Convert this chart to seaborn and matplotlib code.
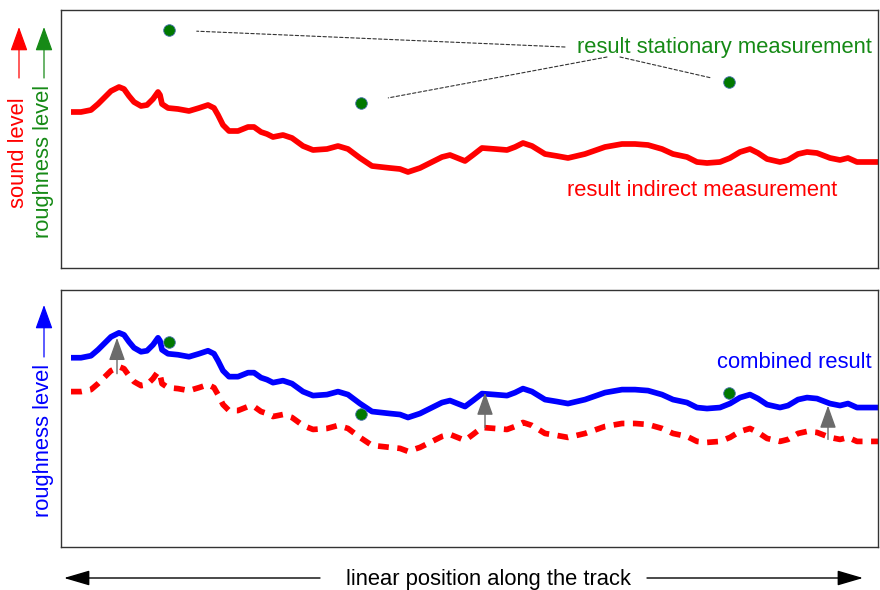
import pandas as pd
import matplotlib.pyplot as plt
import seaborn as sns

# position along the track (arbitrary units) and levels
position = [10, 20, 30, 37, 43, 50, 58, 63, 68, 73,
            80, 86, 92, 97, 99, 101, 107, 117, 128, 138,
            147, 153, 157, 162, 168, 177, 187, 193, 200, 206,
            212, 222, 231, 242, 252, 266, 277, 287, 299, 311,
            329, 339, 347, 359, 369, 381, 389, 399, 404, 412,
            421, 434, 446, 454, 462, 471, 484, 496, 507, 524,
            544, 561, 574, 587, 601, 612, 626, 636, 646, 659,
            669, 679, 689, 697, 706, 719, 727, 737, 746, 756,
            769, 779, 787, 796, 817]
indirect = [156, 156, 158, 164, 170, 177, 181, 179, 172, 166,
            162, 163, 169, 176, 173, 164, 160, 159, 157, 160,
            163, 160, 153, 143, 137, 137, 141, 141, 136, 134,
            131, 133, 130, 122, 118, 119, 122, 119, 110, 102,
            100, 99, 96, 100, 105, 111, 113, 109, 107, 113,
            120, 119, 118, 121, 125, 122, 114, 112, 110, 114,
            121, 124, 124, 123, 119, 114, 111, 106, 105, 106,
            110, 116, 119, 115, 109, 106, 108, 114, 116, 115,
            110, 108, 110, 106, 106]
combined = [190, 190, 192, 198, 204, 211, 215, 213, 206, 200,
            196, 197, 203, 210, 207, 198, 194, 193, 191, 194,
            197, 194, 187, 177, 171, 171, 175, 175, 170, 168,
            165, 167, 164, 156, 152, 153, 156, 153, 144, 136,
            134, 133, 130, 134, 139, 145, 147, 143, 141, 147,
            154, 153, 152, 155, 159, 156, 148, 146, 144, 148,
            155, 158, 158, 157, 153, 148, 145, 140, 139, 140,
            144, 150, 153, 149, 143, 140, 142, 148, 150, 149,
            144, 142, 144, 140, 140]

# stationary measurements
stat_pos = [108, 300, 668]
stat_top = [238, 165, 186]
stat_bottom = [206, 134, 155]

# correction arrows (from indirect to combined)
arrow_pos = [56, 424, 767]
arrow_from = [174, 120, 108]
arrow_to = [210, 155, 142]

sns.set_style('white')
plt.rcParams['font.family'] = ['Liberation Sans', 'DejaVu Sans']

RED, BLUE, GREEN = '#ff0000', '#0000ff', '#168a16'
DOT, DOT_EDGE = '#007800', '#4a72b0'
FS = 15.8
LW = 4.1
W, H = 880, 590

df = pd.DataFrame({'position': position, 'indirect': indirect, 'combined': combined})

fig = plt.figure(figsize=(W / 100, H / 100), dpi=100)
ax1 = fig.add_axes([61 / W, 1 - 268 / H, 817 / W, 258 / H])
ax2 = fig.add_axes([61 / W, 1 - 547 / H, 817 / W, 257 / H])

# top panel
sns.lineplot(data=df, x='position', y='indirect', color=RED, lw=LW, ax=ax1,
             solid_joinstyle='round', solid_capstyle='butt')
sns.scatterplot(x=stat_pos, y=stat_top, ax=ax1, color=DOT, edgecolor=DOT_EDGE,
                linewidth=0.6, s=70, zorder=5)

ax1.text(663, 221, 'result stationary measurement', color=GREEN, fontsize=FS,
         ha='center', va='center')
ax1.text(641, 77, 'result indirect measurement', color=RED, fontsize=FS,
         ha='center', va='center')

leader = dict(arrowstyle='-', color='#333333', lw=0.8, linestyle=(0, (3, 2)), shrinkA=0)
ax1.annotate('', xy=(stat_pos[0], stat_top[0]), xytext=(504, 221),
             arrowprops=dict(leader, shrinkB=20))
ax1.annotate('', xy=(stat_pos[1], stat_top[1]), xytext=(546, 211),
             arrowprops=dict(leader, shrinkB=20))
ax1.annotate('', xy=(stat_pos[2], stat_top[2]), xytext=(559, 211),
             arrowprops=dict(leader, shrinkB=14))

# bottom panel
sns.lineplot(data=df, x='position', y='indirect', color=RED, lw=LW, ax=ax2)
ax2.lines[-1].set_linestyle((0, (1.9, 1.5)))
sns.lineplot(data=df, x='position', y='combined', color=BLUE, lw=LW, ax=ax2,
             solid_joinstyle='round', solid_capstyle='butt')
sns.scatterplot(x=stat_pos, y=stat_bottom, ax=ax2, color=DOT, edgecolor=DOT_EDGE,
                linewidth=0.6, s=70, zorder=5)
for p, a, b in zip(arrow_pos, arrow_from, arrow_to):
    ax2.annotate('', xy=(p, b), xytext=(p, a), zorder=6,
                 arrowprops=dict(arrowstyle='-|>,head_length=14,head_width=5',
                                 mutation_scale=1, color='#6b6b6b', lw=1,
                                 shrinkA=0, shrinkB=0))
ax2.text(733, 185, 'combined result', color=BLUE, fontsize=FS, ha='center', va='center')

for ax in (ax1, ax2):
    ax.set_xlim(0, 817)
    ax.set_ylim(0, 258)
    ax.set_xticks([414])
    ax.set_xticklabels([])
    ax.set_yticks([])
    ax.tick_params(axis='x', length=2, color='#555555')
    ax.set_xlabel('')
    ax.set_ylabel('')
    for s in ax.spines.values():
        s.set_color('#333333')
        s.set_linewidth(1.0)


def fig_arrow(x0, y0, x1, y1, color, hl, hw, lw=0.9):
    ax1.annotate('', xy=(x1, H - y1), xytext=(x0, H - y0),
                 xycoords='figure pixels', textcoords='figure pixels',
                 annotation_clip=False,
                 arrowprops=dict(arrowstyle=f'-|>,head_length={hl},head_width={hw}',
                                 mutation_scale=1, color=color, lw=lw,
                                 shrinkA=0, shrinkB=0))


# axis labels with arrows
fig.text(18 / W, 1 - 152.5 / H, 'sound level', rotation=90, color=RED,
         fontsize=FS, ha='center', va='center')
fig.text(43 / W, 1 - 161 / H, 'roughness level', rotation=90, color=GREEN,
         fontsize=FS, ha='center', va='center')
fig.text(43 / W, 1 - 440 / H, 'roughness level', rotation=90, color=BLUE,
         fontsize=FS, ha='center', va='center')
fig_arrow(19, 78, 19, 27, RED, 15, 5.4)
fig_arrow(44, 78, 44, 27, GREEN, 15, 5.4)
fig_arrow(44, 357, 44, 305, BLUE, 15, 5.4)

fig.text(488 / W, 1 - 579 / H, 'linear position along the track', color='black',
         fontsize=FS, ha='center', va='center')
fig_arrow(320, 578, 64, 578, 'black', 16, 4.7, lw=1.0)
fig_arrow(647, 578, 863, 578, 'black', 16, 4.7, lw=1.0)

fig.savefig('out.png', dpi=100)
